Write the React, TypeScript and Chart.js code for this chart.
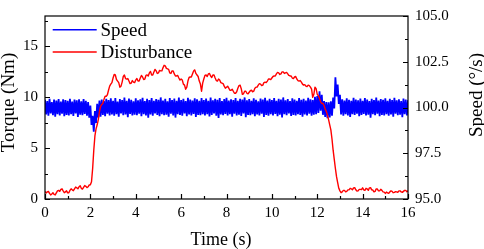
import React, { useEffect, useRef } from "react";
import { Chart, registerables } from "chart.js";

Chart.register(...registerables);

// ---- axis ranges and tick values ----
const TIME_MIN = 0;
const TIME_MAX = 16;
const TORQUE_MIN = 0;
const TORQUE_MAX = 18;
const SPEED_MIN = 95;
const SPEED_MAX = 105;

const X_MAJOR = [0, 2, 4, 6, 8, 10, 12, 14, 16];
const X_MINOR = [1, 3, 5, 7, 9, 11, 13, 15];
const TORQUE_MAJOR = [0, 5, 10, 15];
const TORQUE_MINOR = [2.5, 7.5, 12.5, 17.5];
const SPEED_MAJOR = [95, 97.5, 100, 102.5, 105];
const SPEED_MINOR = [96.25, 98.75, 101.25, 103.75];

// ---- labels ----
const SERIES_LABELS = ["Speed", "Disturbance"];
const X_TITLE = "Time (s)";
const Y_TITLE = "Torque (Nm)";
const Y1_TITLE = "Speed (°/s)";

// ---- series: speed (°/s), sampled every 0.05 s from 0 to 16 s ----
const SPEED_STEP = 0.05;
const SPEED = [
  100.42, 99.62, 100.35, 99.55, 100.48, 99.68, 100.30, 99.58, 100.44, 99.50, 100.38, 99.64, 100.46, 99.57, 100.33, 99.66, 100.45, 99.52, 100.40, 99.60,
  100.36, 99.56, 100.47, 99.63, 100.32, 99.54, 100.43, 99.67, 100.39, 99.48, 100.45, 99.61, 100.34, 99.58, 100.46, 99.65, 100.37, 99.55, 100.30, 99.45,
  100.10, 99.05, 99.55, 98.68, 99.80, 99.15, 100.20, 99.45, 100.38, 99.50, 100.44, 99.60, 100.35, 99.53, 100.48, 99.66, 100.40, 99.57, 100.50, 99.62,
  100.37, 99.55, 100.52, 99.64, 100.33, 99.50, 100.46, 99.68, 100.41, 99.58, 100.55, 99.62, 100.36, 99.47, 100.49, 99.65, 100.42, 99.56, 100.34, 99.61,
  100.50, 99.58, 100.39, 99.66, 100.45, 99.52, 100.53, 99.63, 100.35, 99.57, 100.48, 99.44, 100.40, 99.62, 100.51, 99.55, 100.37, 99.67, 100.46, 99.59,
  100.42, 99.53, 100.55, 99.64, 100.38, 99.58, 100.47, 99.61, 100.34, 99.50, 100.52, 99.66, 100.41, 99.56, 100.49, 99.45, 100.36, 99.63, 100.54, 99.59,
  100.40, 99.55, 100.48, 99.67, 100.35, 99.52, 100.53, 99.62, 100.43, 99.57, 100.38, 99.65, 100.50, 99.48, 100.45, 99.60, 100.37, 99.58, 100.52, 99.63,
  100.41, 99.56, 100.49, 99.64, 100.36, 99.51, 100.54, 99.60, 100.39, 99.67, 100.47, 99.55, 100.42, 99.43, 100.51, 99.62, 100.35, 99.58, 100.46, 99.65,
  100.53, 99.57, 100.38, 99.63, 100.45, 99.50, 100.40, 99.66, 100.52, 99.56, 100.36, 99.61, 100.48, 99.54, 100.43, 99.68, 100.55, 99.47, 100.39, 99.60,
  100.46, 99.58, 100.37, 99.64, 100.50, 99.53, 100.42, 99.62, 100.34, 99.57, 100.49, 99.66, 100.44, 99.49, 100.53, 99.60, 100.38, 99.55, 100.47, 99.63,
  100.41, 99.57, 100.52, 99.65, 100.36, 99.52, 100.48, 99.61, 100.43, 99.46, 100.55, 99.63, 100.39, 99.58, 100.46, 99.67, 100.35, 99.54, 100.50, 99.60,
  100.44, 99.56, 100.37, 99.64, 100.51, 99.59, 100.42, 99.50, 100.47, 99.62, 100.38, 99.57, 100.53, 99.66, 100.45, 99.55, 100.40, 99.61, 100.58, 99.63,
  100.62, 99.70, 100.88, 99.82, 100.70, 99.60, 100.35, 99.48, 100.30, 99.42, 100.28, 99.46, 100.34, 99.55, 100.55, 99.95, 101.65, 100.60, 101.25, 100.20,
  100.70, 99.62, 100.45, 99.55, 100.38, 99.63, 100.50, 99.57, 100.42, 99.48, 100.36, 99.64, 100.53, 99.59, 100.44, 99.66, 100.39, 99.52, 100.49, 99.60,
  100.37, 99.65, 100.51, 99.56, 100.43, 99.61, 100.35, 99.44, 100.48, 99.63, 100.40, 99.58, 100.54, 99.66, 100.38, 99.53, 100.46, 99.60, 100.42, 99.57,
  100.50, 99.64, 100.36, 99.55, 100.47, 99.62, 100.41, 99.50, 100.53, 99.66, 100.39, 99.58, 100.45, 99.61, 100.35, 99.47, 100.49, 99.63, 100.43, 99.56,
  100.40,
];

// ---- series: disturbance torque (Nm), sampled every 0.05 s from 0 to 16 s ----
const DIST_STEP = 0.05;
const DISTURBANCE = [
  0.75, 0.60, 0.70, 0.75, 0.55, 0.40, 0.50, 0.62, 0.45, 0.40, 0.60, 0.80, 0.85, 0.75, 0.95, 1.00, 0.80, 0.62, 0.70, 0.80,
  0.60, 0.62, 0.85, 1.00, 0.90, 0.82, 1.00, 1.18, 1.10, 1.00, 1.20, 1.30, 1.05, 0.98, 1.15, 1.32, 1.25, 1.12, 1.20, 1.38,
  1.40, 1.70, 3.00, 4.80, 6.20, 6.90, 7.30, 7.80, 8.60, 9.10, 9.30, 9.40, 9.80, 10.10, 10.10, 10.25, 10.70, 11.10, 11.30, 11.45,
  11.90, 12.25, 12.20, 11.75, 11.60, 11.45, 11.00, 11.10, 11.50, 12.05, 12.20, 11.85, 11.80, 11.85, 11.60, 11.35, 11.40, 11.65, 11.50, 11.45,
  11.70, 11.85, 11.60, 11.60, 11.90, 12.15, 12.00, 11.75, 11.80, 12.15, 12.20, 12.10, 12.40, 12.55, 12.20, 12.20, 12.50, 12.75, 12.60, 12.35,
  12.40, 12.65, 12.60, 12.60, 12.90, 13.15, 13.10, 12.85, 12.80, 12.75, 12.40, 12.35, 12.60, 12.60, 12.30, 12.10, 12.10, 12.15, 11.90, 11.70,
  11.80, 11.70, 11.30, 11.20, 10.80, 11.00, 11.60, 11.95, 12.00, 12.00, 12.30, 12.60, 12.70, 12.35, 12.20, 12.05, 11.60, 11.30, 10.60, 11.40,
  11.80, 12.15, 12.20, 12.05, 12.30, 12.35, 12.10, 11.95, 12.20, 12.20, 11.90, 11.65, 11.60, 11.80, 11.70, 11.45, 11.40, 11.35, 11.10, 10.90,
  11.00, 11.10, 10.90, 10.70, 10.70, 10.80, 10.60, 10.40, 10.40, 10.55, 10.90, 11.15, 11.20, 10.85, 10.30, 10.35, 10.60, 10.60, 10.40, 10.35,
  10.50, 10.65, 10.70, 10.55, 10.60, 10.90, 11.00, 11.00, 11.20, 11.35, 11.30, 11.15, 11.20, 11.45, 11.50, 11.45, 11.60, 11.80, 11.80, 11.75,
  11.90, 12.05, 12.10, 12.10, 12.30, 12.45, 12.40, 12.25, 12.30, 12.50, 12.50, 12.35, 12.40, 12.45, 12.30, 12.15, 12.10, 12.10, 11.90, 11.85,
  12.00, 12.05, 11.80, 11.65, 11.60, 11.65, 11.50, 11.30, 11.20, 11.25, 11.10, 11.05, 11.20, 11.15, 11.00, 10.80, 10.00, 10.30, 11.00, 10.85,
  10.30, 10.15, 9.90, 9.55, 9.40, 9.40, 9.20, 8.85, 8.60, 8.25, 7.80, 7.30, 6.80, 5.90, 4.80, 3.90, 3.00, 2.20, 1.60, 1.05,
  0.80, 0.62, 0.70, 0.85, 0.85, 0.70, 0.75, 0.90, 0.90, 1.05, 1.00, 0.90, 1.10, 1.12, 0.90, 0.78, 0.80, 0.95, 0.95, 0.92,
  1.10, 0.90, 0.85, 1.05, 1.00, 0.85, 1.10, 1.12, 0.90, 0.88, 0.70, 0.75, 1.00, 0.98, 0.80, 0.80, 0.95, 0.85, 0.70, 0.68,
  0.55, 0.68, 0.60, 0.55, 0.70, 0.80, 0.75, 0.62, 0.65, 0.72, 0.70, 0.65, 0.80, 0.80, 0.70, 0.65, 0.75, 0.85, 0.85, 0.72,
  0.80,
];

const SPEED_COLOR = "#0000ff";
const DIST_COLOR = "#ff0000";
const FONT_FAMILY = "'Liberation Serif', 'Times New Roman', serif";

const decorPlugin = {
  id: "decor",
  afterDatasetsDraw(chart: any) {
    const { ctx, chartArea: a, scales } = chart;
    ctx.save();
    ctx.strokeStyle = "#000";
    ctx.lineWidth = 1.2;
    ctx.beginPath();
    const major = 5;
    const minor = 3;
    const xTicks = (vals: number[], len: number) => {
      vals.forEach((v) => {
        const p = Math.round(scales.x.getPixelForValue(v)) + 0.5;
        ctx.moveTo(p, a.bottom);
        ctx.lineTo(p, a.bottom - len);
      });
    };
    const yTicks = (vals: number[], len: number) => {
      vals.forEach((v) => {
        const p = Math.round(scales.y.getPixelForValue(v)) + 0.5;
        ctx.moveTo(a.left, p);
        ctx.lineTo(a.left + len, p);
      });
    };
    const y1Ticks = (vals: number[], len: number) => {
      vals.forEach((v) => {
        const p = Math.round(scales.y1.getPixelForValue(v)) + 0.5;
        ctx.moveTo(a.right, p);
        ctx.lineTo(a.right - len, p);
      });
    };
    xTicks(X_MAJOR, major);
    xTicks(X_MINOR, minor);
    yTicks(TORQUE_MAJOR, major);
    yTicks(TORQUE_MINOR, minor);
    y1Ticks(SPEED_MAJOR, major);
    y1Ticks(SPEED_MINOR, minor);
    ctx.stroke();
    ctx.strokeRect(a.left, a.top, a.right - a.left, a.bottom - a.top);

    // legend
    ctx.font = `19px ${FONT_FAMILY}`;
    ctx.textAlign = "left";
    ctx.textBaseline = "alphabetic";
    chart.data.datasets.forEach((ds: any, i: number) => {
      const y = a.top + 13.7 + i * 22.3;
      ctx.strokeStyle = ds.borderColor;
      ctx.lineWidth = 1.5;
      ctx.beginPath();
      ctx.moveTo(a.left + 7.7, y);
      ctx.lineTo(a.left + 51.7, y);
      ctx.stroke();
      ctx.fillStyle = "#000";
      ctx.fillText(ds.label, a.left + 55.5, y + 6);
    });

    // axis titles
    ctx.fillStyle = "#000";
    ctx.textAlign = "center";
    ctx.textBaseline = "alphabetic";
    ctx.font = `19px ${FONT_FAMILY}`;
    ctx.save();
    ctx.translate(14, 102.5);
    ctx.rotate(-Math.PI / 2);
    ctx.fillText(Y_TITLE, 0, 0);
    ctx.restore();
    ctx.save();
    ctx.translate(481.5, 95);
    ctx.rotate(-Math.PI / 2);
    ctx.fillText(Y1_TITLE, 0, 0);
    ctx.restore();
    ctx.font = `18px ${FONT_FAMILY}`;
    ctx.fillText(X_TITLE, 221, 245);
    ctx.restore();
  },
};

export default function App() {
  const canvasRef = useRef<HTMLCanvasElement | null>(null);

  useEffect(() => {
    if (!canvasRef.current) return;
    const speedPoints = SPEED.map((v, i) => ({ x: i * SPEED_STEP, y: v }));
    const distPoints = DISTURBANCE.map((v, i) => ({ x: i * DIST_STEP, y: v }));
    const tickFont = { family: FONT_FAMILY, size: 15 };

    const chart = new Chart(canvasRef.current, {
      type: "line",
      data: {
        datasets: [
          {
            label: SERIES_LABELS[0],
            data: speedPoints,
            yAxisID: "y1",
            borderColor: SPEED_COLOR,
            borderWidth: 1.8,
            pointRadius: 0,
            tension: 0,
            borderJoinStyle: "bevel",
            order: 1,
          },
          {
            label: SERIES_LABELS[1],
            data: distPoints,
            yAxisID: "y",
            borderColor: DIST_COLOR,
            borderWidth: 1.4,
            pointRadius: 0,
            tension: 0,
            borderJoinStyle: "round",
            order: 0,
          },
        ],
      },
      options: {
        responsive: false,
        animation: false,
        layout: { padding: { top: 9, left: 0, right: 0, bottom: 0 } },
        plugins: {
          legend: { display: false },
          tooltip: { enabled: false },
          title: { display: false },
        },
        scales: {
          x: {
            type: "linear",
            min: TIME_MIN,
            max: TIME_MAX,
            afterBuildTicks: (s: any) => {
              s.ticks = X_MAJOR.map((v) => ({ value: v }));
            },
            afterFit: (s: any) => {
              s.height = 50;
            },
            ticks: {
              font: tickFont,
              color: "#000",
              padding: 5,
              maxRotation: 0,
              autoSkip: false,
              callback: (v: any) => String(v),
            },
            grid: { display: false, drawTicks: false },
            border: { display: false },
          },
          y: {
            type: "linear",
            position: "left",
            min: TORQUE_MIN,
            max: TORQUE_MAX,
            afterBuildTicks: (s: any) => {
              s.ticks = TORQUE_MAJOR.map((v) => ({ value: v }));
            },
            afterFit: (s: any) => {
              s.width = 45;
            },
            ticks: {
              font: tickFont,
              color: "#000",
              padding: 7,
              autoSkip: false,
              callback: (v: any) => String(v),
            },
            grid: { display: false, drawTicks: false },
            border: { display: false },
          },
          y1: {
            type: "linear",
            position: "right",
            min: SPEED_MIN,
            max: SPEED_MAX,
            afterBuildTicks: (s: any) => {
              s.ticks = SPEED_MAJOR.map((v) => ({ value: v }));
            },
            afterFit: (s: any) => {
              s.width = 76;
            },
            ticks: {
              font: tickFont,
              color: "#000",
              padding: 7,
              autoSkip: false,
              callback: (v: any) => Number(v).toFixed(1),
            },
            grid: { display: false, drawTicks: false },
            border: { display: false },
          },
        },
      },
      plugins: [decorPlugin],
    } as any);

    return () => {
      chart.destroy();
    };
  }, []);

  return (
    <div
      style={{
        position: "fixed",
        left: 0,
        top: 0,
        width: 484,
        height: 249,
        background: "#fff",
      }}
    >
      <canvas ref={canvasRef} width={484} height={249} style={{ display: "block" }} />
    </div>
  );
}
